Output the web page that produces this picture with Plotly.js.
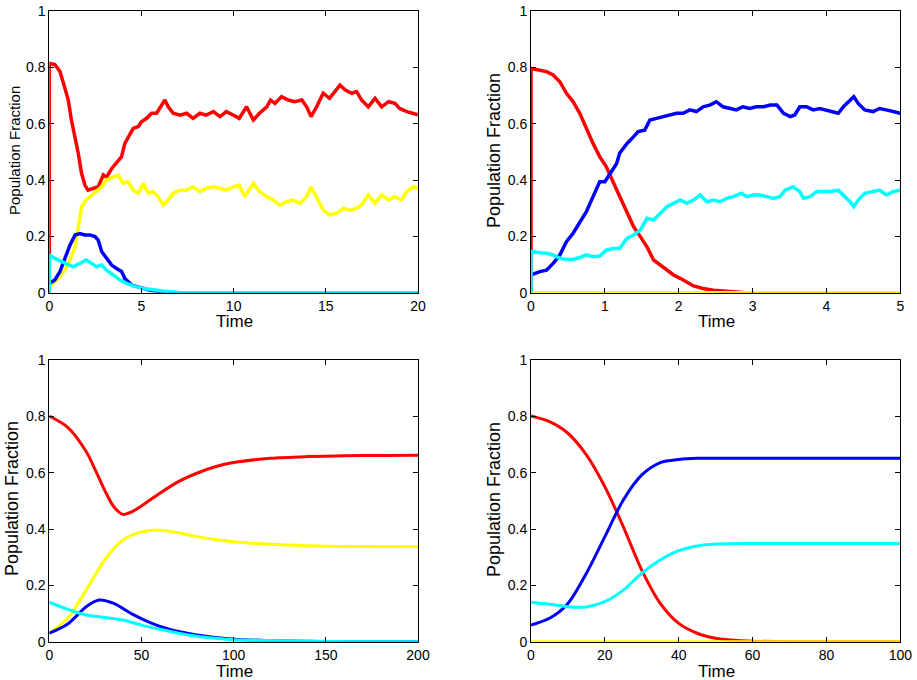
<!DOCTYPE html>
<html>
<head>
<meta charset="utf-8">
<script src="https://cdn.plot.ly/plotly-3.0.1.min.js"></script>
<style>html,body{margin:0;padding:0;background:#fff;}#chart{width:917px;height:680px;}</style>
</head>
<body>
<div id="chart"></div>
<script>
// ---------- Panel A (top-left): stochastic, time 0-20 ----------
const tA_red = [0,0,0.3,0.58,0.85,1.03,1.2,1.4,1.57,1.75,1.93,2.1,2.4,2.65,2.93,3.1,3.38,3.65,3.92,4.1,4.38,4.55,4.83,5.0,5.28,5.55,5.82,6.1,6.27,6.45,6.72,7.09,7.45,7.8,8.17,8.5,8.9,9.26,9.6,10.0,10.3,10.7,11.07,11.4,11.8,12.0,12.24,12.6,12.96,13.3,13.7,13.96,14.2,14.5,14.86,15.2,15.6,15.77,16.04,16.4,16.67,16.94,17.3,17.67,18.03,18.4,18.75,19.0,19.4,19.75,20];
const yA_red = [0,0.814,0.81,0.785,0.725,0.684,0.613,0.554,0.495,0.424,0.382,0.364,0.37,0.376,0.418,0.41,0.44,0.46,0.483,0.53,0.566,0.583,0.59,0.607,0.619,0.637,0.637,0.666,0.684,0.66,0.637,0.63,0.637,0.619,0.637,0.63,0.643,0.625,0.643,0.63,0.619,0.66,0.613,0.637,0.66,0.684,0.672,0.696,0.684,0.678,0.684,0.66,0.625,0.66,0.708,0.69,0.72,0.737,0.72,0.708,0.714,0.684,0.66,0.69,0.66,0.678,0.672,0.654,0.643,0.637,0.631];
const tA_yellow = [0,0.3,0.58,0.85,1.12,1.4,1.57,1.75,2.0,2.3,2.57,2.84,3.1,3.47,3.74,4.0,4.28,4.55,4.83,5.1,5.37,5.64,5.9,6.18,6.45,6.72,7.09,7.45,7.8,8.17,8.5,8.9,9.26,9.6,10.0,10.3,10.6,11.07,11.4,11.8,12.15,12.5,12.86,13.2,13.6,13.96,14.2,14.5,14.86,15.2,15.6,15.95,16.3,16.67,16.94,17.3,17.67,18.03,18.4,18.75,19.1,19.4,19.75,20];
const yA_yellow = [0.02,0.04,0.057,0.08,0.116,0.163,0.234,0.305,0.329,0.347,0.359,0.376,0.4,0.412,0.418,0.388,0.394,0.364,0.353,0.388,0.353,0.359,0.341,0.311,0.329,0.353,0.364,0.364,0.376,0.359,0.37,0.376,0.37,0.364,0.376,0.382,0.341,0.388,0.359,0.341,0.329,0.311,0.323,0.329,0.317,0.341,0.376,0.341,0.293,0.276,0.282,0.299,0.293,0.299,0.311,0.347,0.317,0.347,0.329,0.341,0.329,0.359,0.376,0.37];
const tA_blue = [0,0.3,0.58,0.85,1.12,1.4,1.66,1.93,2.2,2.48,2.65,2.84,3.1,3.38,3.65,3.92,4.1,4.47,4.92,5.46,6.0,6.7,20];
const yA_blue = [0.033,0.045,0.075,0.122,0.169,0.205,0.21,0.205,0.205,0.199,0.187,0.146,0.122,0.098,0.086,0.075,0.05,0.027,0.019,0.009,0.004,0,0];
const tA_cyan = [0,0,0.3,0.67,1.03,1.3,1.66,2.0,2.3,2.57,2.84,3.1,3.47,3.83,4.2,4.55,5.1,5.64,6.36,7.09,8.0,20];
const yA_cyan = [0,0.134,0.122,0.11,0.098,0.092,0.104,0.116,0.104,0.092,0.098,0.08,0.063,0.045,0.033,0.024,0.015,0.009,0.004,0.001,0,0];

// ---------- Panel B (top-right): stochastic, time 0-5 ----------
const tB_red = [0,0,0.12,0.21,0.30,0.39,0.48,0.57,0.66,0.75,0.84,0.93,1.02,1.11,1.20,1.30,1.39,1.48,1.57,1.66,1.75,1.84,1.93,2.02,2.11,2.2,2.33,2.47,2.65,2.87,3.1,5];
const yB_red = [0,0.796,0.79,0.785,0.773,0.749,0.708,0.678,0.637,0.583,0.53,0.483,0.447,0.394,0.341,0.282,0.234,0.199,0.163,0.116,0.098,0.08,0.063,0.051,0.039,0.024,0.015,0.009,0.005,0.001,0,0];
const tB_yellow = [0,5];
const yB_yellow = [0,0];
const tB_blue = [0,0.12,0.21,0.30,0.39,0.48,0.57,0.66,0.75,0.84,0.93,1.0,1.07,1.16,1.20,1.30,1.39,1.45,1.54,1.61,1.70,1.79,1.88,1.97,2.06,2.15,2.24,2.33,2.42,2.51,2.6,2.69,2.78,2.87,2.96,3.05,3.15,3.24,3.33,3.42,3.51,3.57,3.64,3.73,3.82,3.91,4.0,4.09,4.16,4.23,4.32,4.37,4.43,4.52,4.63,4.72,4.81,4.9,5.0];
const yB_blue = [0.063,0.075,0.08,0.104,0.134,0.181,0.211,0.252,0.288,0.341,0.394,0.394,0.424,0.459,0.495,0.53,0.554,0.572,0.577,0.613,0.619,0.625,0.631,0.637,0.637,0.649,0.643,0.66,0.666,0.678,0.66,0.654,0.649,0.66,0.654,0.66,0.66,0.666,0.666,0.637,0.625,0.631,0.66,0.66,0.649,0.654,0.649,0.643,0.637,0.66,0.684,0.696,0.672,0.649,0.643,0.654,0.649,0.643,0.637];
const tB_cyan = [0,0,0.12,0.21,0.30,0.39,0.48,0.57,0.66,0.75,0.84,0.93,1.02,1.11,1.20,1.30,1.39,1.48,1.57,1.66,1.75,1.84,1.93,2.02,2.11,2.2,2.29,2.38,2.47,2.56,2.65,2.74,2.85,2.92,3.01,3.1,3.19,3.28,3.37,3.44,3.55,3.64,3.69,3.78,3.87,3.96,4.05,4.16,4.23,4.32,4.37,4.43,4.52,4.63,4.72,4.81,4.9,5.0];
const yB_cyan = [0,0.146,0.142,0.14,0.134,0.122,0.118,0.118,0.125,0.134,0.128,0.13,0.151,0.157,0.157,0.193,0.205,0.222,0.264,0.258,0.282,0.305,0.317,0.329,0.317,0.329,0.347,0.323,0.329,0.323,0.335,0.341,0.353,0.341,0.347,0.347,0.341,0.335,0.341,0.364,0.376,0.359,0.335,0.341,0.359,0.359,0.359,0.364,0.347,0.323,0.305,0.329,0.353,0.359,0.364,0.347,0.359,0.364];

// ---------- Panel C (bottom-left): deterministic, time 0-200 ----------
const tC_red = [0,10,20,25,30,35,40,45,50,60,70,80,90,100,120,140,160,180,200];
const yC_red = [0.801,0.761,0.675,0.609,0.538,0.479,0.452,0.462,0.482,0.527,0.568,0.598,0.621,0.636,0.651,0.657,0.66,0.661,0.662];
const tC_yellow = [0,10,20,30,40,50,60,70,80,90,100,120,140,160,200];
const yC_yellow = [0.03,0.083,0.183,0.29,0.361,0.39,0.396,0.387,0.373,0.363,0.355,0.346,0.341,0.338,0.337];
const tC_blue = [0,10,20,27,35,45,55,65,80,100,120,150,200];
const yC_blue = [0.03,0.063,0.124,0.148,0.136,0.098,0.067,0.044,0.024,0.009,0.004,0.001,0];
const tC_cyan = [0,10,20,30,40,50,60,70,80,90,100,120,150,200];
const yC_cyan = [0.14,0.115,0.095,0.086,0.077,0.059,0.044,0.03,0.019,0.012,0.007,0.004,0.001,0];

// ---------- Panel D (bottom-right): deterministic, time 0-100 ----------
const tD_red = [0,5,10,15,20,25,30,35,40,45,50,55,60,70,100];
const yD_red = [0.801,0.781,0.74,0.663,0.55,0.408,0.254,0.136,0.065,0.03,0.012,0.005,0.002,0,0];
const tD_yellow = [0,100];
const yD_yellow = [0,0];
const tD_blue = [0,5,10,15,20,25,30,35,40,45,50,100];
const yD_blue = [0.059,0.083,0.136,0.243,0.373,0.503,0.592,0.636,0.647,0.651,0.651,0.651];
const tD_cyan = [0,5,10,13,15,20,25,30,35,40,45,50,60,100];
const yD_cyan = [0.14,0.133,0.124,0.122,0.123,0.142,0.183,0.243,0.29,0.323,0.34,0.347,0.349,0.349];

const xRanges = [[0,20],[0,5],[0,200],[0,100]];
const xTicks = [5,1,50,20];
const yTickVals = [0,0.2,0.4,0.6,0.8,1];
const yTickText = ["0","0.2","0.4","0.6","0.8","1"];
const xTitle = "Time";
const yTitle = "Population Fraction";

const COL = {red:"#ff0000", yellow:"#ffff00", blue:"#0000ff", cyan:"#00ffff"};
const FONT = "Liberation Sans, Arial, Helvetica, sans-serif";

function tr(x, y, color, ax, smooth, w) {
  return {x: x, y: y, type: "scatter", mode: "lines",
    xaxis: "x" + (ax === 1 ? "" : ax), yaxis: "y" + (ax === 1 ? "" : ax),
    line: {color: color, width: w, shape: smooth ? "spline" : "linear", smoothing: 0.8},
    hoverinfo: "skip", showlegend: false};
}

const data = [
  tr(tA_red, yA_red, COL.red, 1, false, 3.5),
  tr(tA_yellow, yA_yellow, COL.yellow, 1, false, 3.5),
  tr(tA_blue, yA_blue, COL.blue, 1, false, 3.5),
  tr(tA_cyan, yA_cyan, COL.cyan, 1, false, 3.5),
  tr(tB_red, yB_red, COL.red, 2, false, 3.5),
  tr(tB_yellow, yB_yellow, COL.yellow, 2, false, 3.5),
  tr(tB_blue, yB_blue, COL.blue, 2, false, 3.5),
  tr(tB_cyan, yB_cyan, COL.cyan, 2, false, 3.5),
  tr(tC_red, yC_red, COL.red, 3, true, 3),
  tr(tC_yellow, yC_yellow, COL.yellow, 3, true, 3),
  tr(tC_blue, yC_blue, COL.blue, 3, true, 3),
  tr(tC_cyan, yC_cyan, COL.cyan, 3, true, 3),
  tr(tD_red, yD_red, COL.red, 4, true, 3),
  tr(tD_yellow, yD_yellow, COL.yellow, 4, true, 3),
  tr(tD_blue, yD_blue, COL.blue, 4, true, 3),
  tr(tD_cyan, yD_cyan, COL.cyan, 4, true, 3)
];

const W = 917, H = 680;
const xDomPx = [[49.3,418],[531,900.3],[49.3,418],[531,900.3]];
const yDomPx = [[11,292.7],[11,292.7],[360,641.7],[360,641.7]];
// axis-title placement (pixel centres) and sizes
const xTitlePos = [[234,321],[716,321],[234,671],[716,671]];
const yTitlePos = [[14,151],[494,150],[12,499],[494,499]];
const yTitleSize = [15,18,18,18];

const layout = {
  width: W, height: H,
  margin: {l:0, r:0, t:0, b:0},
  paper_bgcolor: "#ffffff", plot_bgcolor: "#ffffff",
  font: {family: FONT, color: "#000000", size: 14},
  showlegend: false,
  annotations: []
};

for (let i = 0; i < 4; i++) {
  const s = i === 0 ? "" : String(i + 1);
  layout["xaxis" + s] = {
    domain: [xDomPx[i][0] / W, xDomPx[i][1] / W],
    anchor: "y" + s,
    range: xRanges[i], dtick: xTicks[i], tick0: 0,
    ticks: "inside", ticklen: 5, tickwidth: 1, tickcolor: "#000",
    showline: true, linecolor: "#000", linewidth: 1, mirror: "ticks",
    showgrid: false, zeroline: false, fixedrange: true,
    tickfont: {family: FONT, size: 14, color: "#000"},
    automargin: false
  };
  layout["yaxis" + s] = {
    domain: [1 - yDomPx[i][1] / H, 1 - yDomPx[i][0] / H],
    anchor: "x" + s,
    range: [0, 1], tickvals: yTickVals, ticktext: yTickText,
    ticks: "inside", ticklen: 5, tickwidth: 1, tickcolor: "#000",
    showline: true, linecolor: "#000", linewidth: 1, mirror: "ticks",
    showgrid: false, zeroline: false, fixedrange: true,
    tickfont: {family: FONT, size: 14, color: "#000"},
    automargin: false
  };
  layout.annotations.push({
    text: xTitle, xref: "paper", yref: "paper",
    x: xTitlePos[i][0] / W, y: 1 - xTitlePos[i][1] / H,
    xanchor: "center", yanchor: "middle", showarrow: false, borderpad: 0,
    font: {family: FONT, size: 17, color: "#000"}
  });
  layout.annotations.push({
    text: yTitle, xref: "paper", yref: "paper", textangle: -90,
    x: yTitlePos[i][0] / W, y: 1 - yTitlePos[i][1] / H,
    xanchor: "center", yanchor: "middle", showarrow: false, borderpad: 0,
    font: {family: FONT, size: yTitleSize[i], color: "#000"}
  });
}

Plotly.newPlot("chart", data, layout, {staticPlot: true, displayModeBar: false});
</script>
</body>
</html>
